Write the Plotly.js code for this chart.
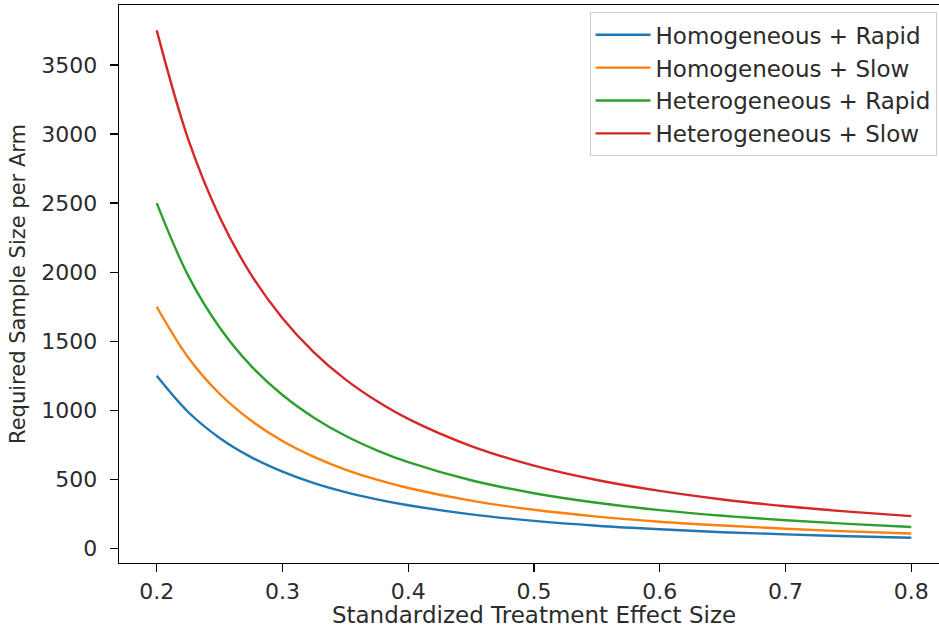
<!DOCTYPE html>
<html>
<head>
<meta charset="utf-8">
<script src="https://cdn.plot.ly/plotly-3.0.1.min.js"></script>
<style>
html,body{margin:0;padding:0;background:#fff;overflow:hidden;}
#chart{width:960px;height:628px;}
</style>
</head>
<body>
<div id="chart"></div>
<script>
// Effect sizes (x) and required sample size per arm
const effectSize = [0.20, 0.225, 0.25, 0.275, 0.30, 0.325, 0.35, 0.375, 0.40, 0.45, 0.50, 0.55, 0.60, 0.65, 0.70, 0.75, 0.80];
const homRapid   = [1250, 988, 800, 661, 556, 473, 408, 356, 313, 247, 200, 165, 139, 118, 102, 89, 78];
const homSlow    = [1750, 1383, 1120, 926, 778, 663, 571, 498, 438, 346, 280, 231, 194, 166, 143, 124, 109];
const hetRapid   = [2500, 1975, 1600, 1322, 1111, 947, 816, 711, 625, 494, 400, 331, 278, 237, 204, 178, 156];
const hetSlow    = [3750, 2963, 2400, 1983, 1667, 1420, 1224, 1067, 938, 741, 600, 496, 417, 355, 306, 267, 234];
const seriesNames = ["Homogeneous + Rapid", "Homogeneous + Slow", "Heterogeneous + Rapid", "Heterogeneous + Slow"];
const seriesColors = ["#1f77b4", "#ff7f0e", "#2ca02c", "#d62728"];
const xTicks = [0.2, 0.3, 0.4, 0.5, 0.6, 0.7, 0.8];
const yTicks = [0, 500, 1000, 1500, 2000, 2500, 3000, 3500];

const allSeries = [homRapid, homSlow, hetRapid, hetSlow];
const FONT = "DejaVu Sans, sans-serif";
const TXT = "#2b2b2b";
const traces = allSeries.map((ys, i) => ({
  type: "scatter",
  mode: "lines",
  x: effectSize,
  y: ys,
  name: seriesNames[i],
  line: {color: seriesColors[i], width: 2.4, shape: "spline", smoothing: 1.0}
}));

const layout = {
  width: 960,
  height: 628,
  margin: {l: 119, r: 11, t: 5, b: 65},
  paper_bgcolor: "#fff",
  plot_bgcolor: "#fff",
  showlegend: true,
  font: {family: FONT, size: 22, color: TXT},
  xaxis: {
    range: [0.17, 0.83],
    tickvals: xTicks,
    ticktext: xTicks.map(v => v.toFixed(1)),
    showgrid: false,
    zeroline: false,
    showline: true,
    linecolor: "#000",
    linewidth: 1.3,
    mirror: true,
    ticks: "outside",
    ticklen: 8,
    tickwidth: 1.3,
    tickcolor: "#000",
    tickfont: {family: FONT, size: 22, color: TXT},
    title: {text: "Standardized Treatment Effect Size", font: {family: FONT, size: 23, color: TXT}, standoff: 8}
  },
  yaxis: {
    range: [-105, 3934],
    tickvals: yTicks,
    ticktext: yTicks.map(v => String(v)),
    showgrid: false,
    zeroline: false,
    showline: true,
    linecolor: "#000",
    linewidth: 1.3,
    mirror: true,
    ticks: "outside",
    ticklen: 8,
    tickwidth: 1.3,
    tickcolor: "#000",
    ticklabelstandoff: 8,
    tickfont: {family: FONT, size: 22, color: TXT},
    title: {text: "Required Sample Size per Arm", font: {family: FONT, size: 21, color: TXT}, standoff: 10}
  },
  legend: {
    x: 0.985, xanchor: "right",
    y: 0.987, yanchor: "top",
    bgcolor: "#fff",
    bordercolor: "#ccc",
    borderwidth: 1,
    font: {family: FONT, size: 23, color: TXT},
    itemwidth: 55
  }
};

Plotly.newPlot("chart", traces, layout, {displayModeBar: false, staticPlot: true});
</script>
</body>
</html>
